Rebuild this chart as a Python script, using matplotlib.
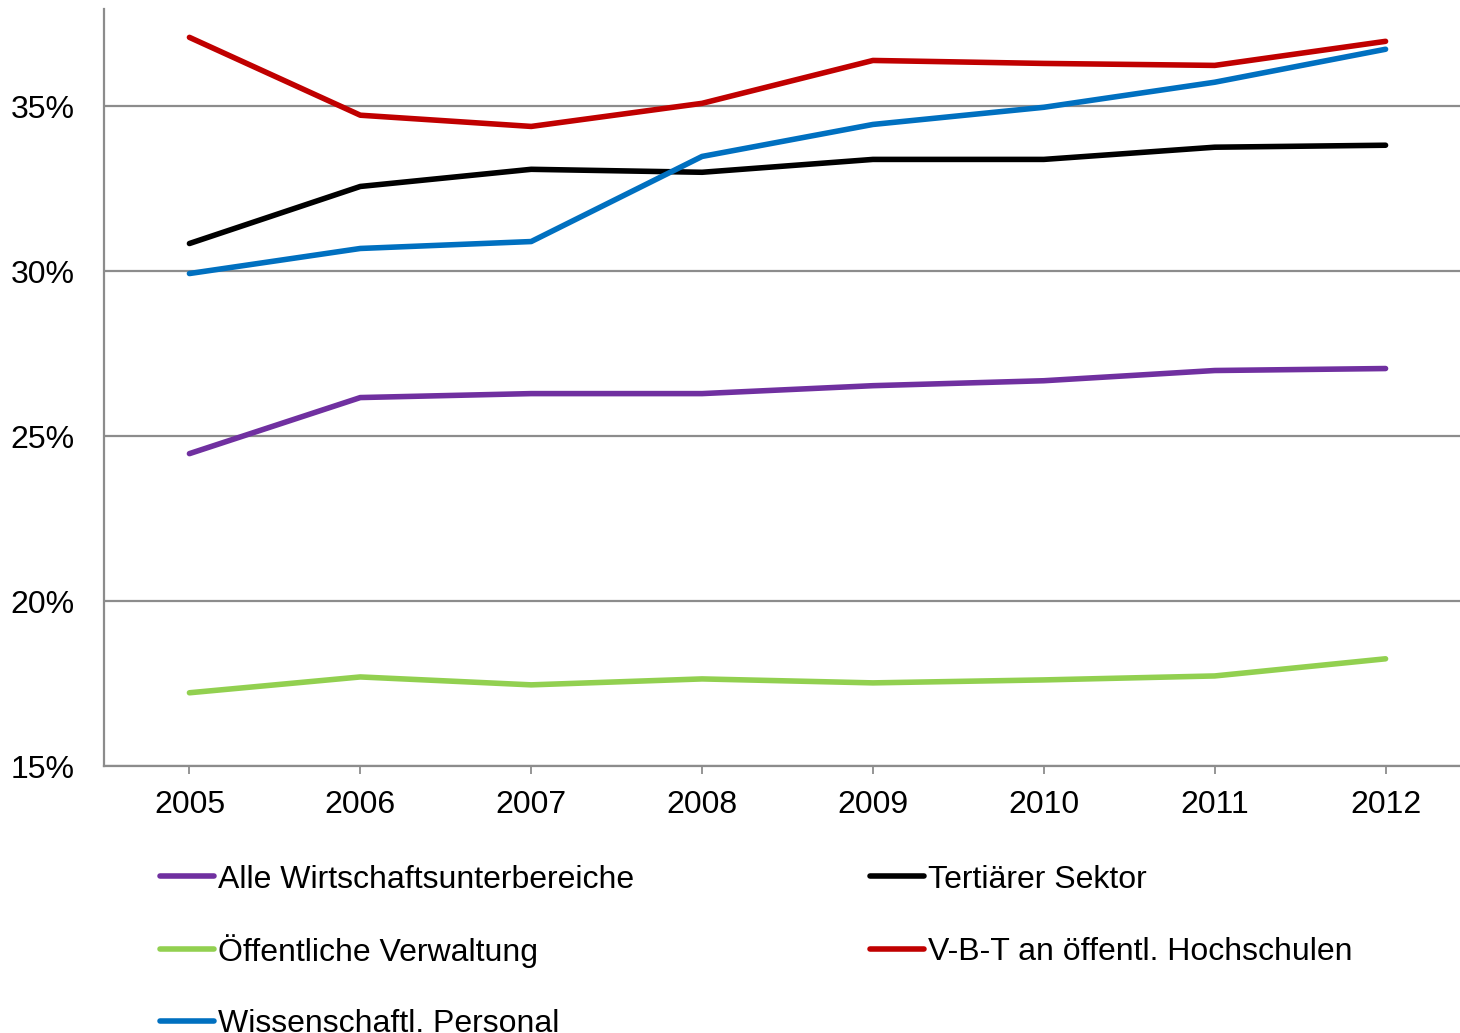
import numpy as np
import matplotlib.pyplot as plt
from matplotlib.lines import Line2D

plt.rcParams['font.family'] = ['Liberation Sans', 'DejaVu Sans']

years = [2005, 2006, 2007, 2008, 2009, 2010, 2011, 2012]

alle = [24.47, 26.17, 26.29, 26.29, 26.53, 26.68, 26.99, 27.05]
tertiaer = [30.84, 32.57, 33.09, 33.00, 33.39, 33.39, 33.76, 33.82]
oeffentl = [17.22, 17.70, 17.46, 17.64, 17.52, 17.61, 17.73, 18.25]
vbt = [37.09, 34.73, 34.39, 35.09, 36.39, 36.30, 36.24, 36.97]
wiss = [29.93, 30.69, 30.90, 33.48, 34.45, 34.97, 35.73, 36.73]

labels = ["Alle Wirtschaftsunterbereiche", "Tertiärer Sektor",
          "Öffentliche Verwaltung", "V-B-T an öffentl. Hochschulen",
          "Wissenschaftl. Personal"]
colors = ["#7030a0", "#000000", "#92d050", "#c00000", "#0070c0"]
series = [alle, tertiaer, oeffentl, vbt, wiss]

yticks = [15, 20, 25, 30, 35]

fig = plt.figure(figsize=(14.6, 10.33), dpi=100)
ax = fig.add_axes([104 / 1460, 1 - 766 / 1033, 1367 / 1460, (766 - 9) / 1033])

# draw in z-order so the red and blue lines sit on top
order = [2, 0, 1, 4, 3]
for i in order:
    ax.plot(years, series[i], color=colors[i], lw=4.0, solid_capstyle='round',
            solid_joinstyle='round', zorder=3)

ax.set_xlim(2004.5, 2012.5)
ax.set_ylim(15, 37.95)
ax.set_yticks(yticks)
ax.set_yticklabels([f"{v}%" for v in yticks])
ax.set_xticks(years)
ax.set_xticklabels([str(y) for y in years])
ax.yaxis.grid(True, color="#8c8c8c", lw=1.6, zorder=1)
ax.set_axisbelow(True)
for s in ['top', 'right']:
    ax.spines[s].set_visible(False)
for s in ['left', 'bottom']:
    ax.spines[s].set_color("#8c8c8c")
    ax.spines[s].set_linewidth(1.6)
ax.tick_params(axis='y', length=0, pad=21, labelsize=23)
ax.tick_params(axis='x', length=6, width=1.3, color="#8c8c8c", pad=11, labelsize=23)

# legend laid out in two columns below the plot
col_x = [160, 870]
row_y = [876, 949, 1021]
slots = [(0, 0), (1, 0), (0, 1), (1, 1), (0, 2)]
for (c, r), lab, col in zip(slots, labels, colors):
    x0 = col_x[c] / 1460
    y0 = 1 - row_y[r] / 1033
    fig.add_artist(Line2D([x0, x0 + 54 / 1460], [y0, y0], color=col, lw=4.0,
                          solid_capstyle='round', transform=fig.transFigure))
    fig.text(x0 + 58 / 1460, y0 - 11.5 / 1033, lab, fontsize=23,
             va='baseline', ha='left')

fig.savefig("out.png", dpi=100)
